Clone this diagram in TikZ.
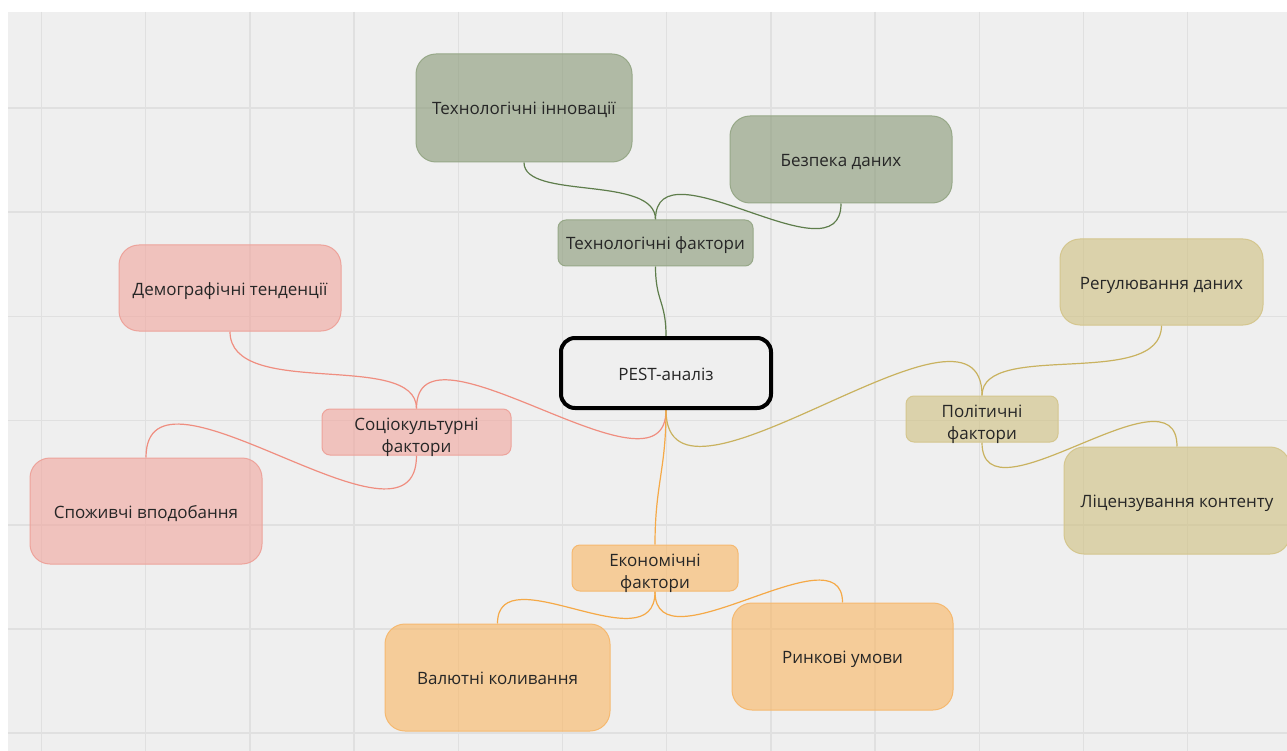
\documentclass[tikz,border=0pt]{standalone}
\usepackage{fontspec}
\setmainfont{Open Sans}
\usetikzlibrary{backgrounds}
\definecolor{bgc}{HTML}{EFEFEF}
\definecolor{gridc}{HTML}{E0E0E0}
\definecolor{txt}{HTML}{262626}
\definecolor{techF}{HTML}{869774}
\definecolor{techB}{HTML}{97A888}
\definecolor{techL}{HTML}{5E7D4B}
\definecolor{socF}{HTML}{F1A49D}
\definecolor{socB}{HTML}{EDA39B}
\definecolor{socL}{HTML}{EF8E80}
\definecolor{polF}{HTML}{CFBF7F}
\definecolor{polB}{HTML}{D4C68E}
\definecolor{polL}{HTML}{C9B25F}
\definecolor{ecoF}{HTML}{F9B560}
\definecolor{ecoB}{HTML}{F5B970}
\definecolor{ecoL}{HTML}{F5A947}
\tikzset{
  box/.style={draw, fill opacity=0.6, text opacity=1, text=txt, line width=1pt,
    align=center, inner sep=0pt, font=\fontsize{17}{22}\selectfont,
    text height=16pt, text depth=2pt},
  twoline/.style={text height=40pt, text depth=0pt},
  bigbox/.style={box, rounded corners=20pt},
  smallbox/.style={box, rounded corners=8pt},
  tech/.style={fill=techF, draw=techB},
  soc/.style={fill=socF, draw=socB},
  pol/.style={fill=polF, draw=polB},
  eco/.style={fill=ecoF, draw=ecoB},
  conn/.style={line width=1.2pt},
}
\begin{document}
\begin{tikzpicture}[x=1pt,y=-1pt]
\useasboundingbox (0,0) rectangle (1287,751);
% nodes
\node[box, draw=black, fill=bgc, fill opacity=1, line width=4pt, rounded corners=14pt,
  minimum width=210pt, minimum height=70pt] (pest) at (666,373) {PEST-аналіз};
\node[smallbox, tech, minimum width=195pt, minimum height=46pt] (tf) at (655.5,243) {Технологічні фактори};
\node[bigbox, tech, minimum width=216pt, minimum height=108pt] (ti) at (524,108) {Технологічні інновації};
\node[bigbox, tech, minimum width=222pt, minimum height=87pt] (bd) at (841,159.5) {Безпека даних};
\node[smallbox, soc, twoline, minimum width=189pt, minimum height=46pt] (sf) at (416.5,432) {Соціокультурні\\фактори};
\node[bigbox, soc, minimum width=222pt, minimum height=86pt] (dt) at (230,288) {Демографічні тенденції};
\node[bigbox, soc, minimum width=232pt, minimum height=106pt] (sv) at (146,511) {Споживчі вподобання};
\node[smallbox, pol, twoline, minimum width=152pt, minimum height=46pt] (pf) at (982,419) {Політичні\\фактори};
\node[bigbox, pol, minimum width=203pt, minimum height=86pt] (rd) at (1161.5,282) {Регулювання даних};
\node[bigbox, pol, minimum width=226pt, minimum height=107pt] (lk) at (1177,500.5) {Ліцензування контенту};
\node[smallbox, eco, twoline, minimum width=166pt, minimum height=46pt] (ef) at (655,568) {Економічні\\фактори};
\node[bigbox, eco, minimum width=225pt, minimum height=107pt] (vk) at (497.5,677.5) {Валютні коливання};
\node[bigbox, eco, minimum width=221pt, minimum height=107pt] (ru) at (842.5,656.5) {Ринкові умови};
% background and connectors
\begin{scope}[on background layer]
\fill[white] (0,0) rectangle (1287,751);
\fill[bgc] (8,12) rectangle (1287,751);
\foreach \i in {0,...,11} \draw[gridc, line width=1.5pt] ({41.5+104.2*\i},12) -- ({41.5+104.2*\i},751);
\foreach \i in {0,...,6} \draw[gridc, line width=1.5pt] (8,{108+104.2*\i}) -- (1287,{108+104.2*\i});
\draw[conn, techL] (pest.north) .. controls +(0,-35) and +(0,35) .. (tf.south);
\draw[conn, techL] (tf.north) .. controls +(0,-45) and +(0,38) .. (ti.south);
\draw[conn, techL] (tf.north) .. controls +(0,-80) and +(0,80) .. (bd.south);
\draw[conn, socL] (pest.south) .. controls +(0,100) and +(0,-100) .. (sf.north);
\draw[conn, socL] (sf.north) .. controls +(0,-59) and +(0,69) .. (dt.south);
\draw[conn, socL] (sf.south) .. controls +(0,115) and +(0,-115) .. (sv.north);
\draw[conn, polL] (pest.south) .. controls +(0,130) and +(0,-125) .. (pf.north);
\draw[conn, polL] (pf.north) .. controls +(0,-56) and +(0,65) .. (rd.south);
\draw[conn, polL] (pf.south) .. controls +(0,85) and +(0,-85) .. (lk.north);
\draw[conn, ecoL] (pest.south) .. controls +(0,60) and +(0,-60) .. (ef.north);
\draw[conn, ecoL] (ef.south) .. controls +(0,75) and +(0,-70) .. (vk.north);
\draw[conn, ecoL] (ef.south) .. controls +(0,80) and +(0,-75) .. (ru.north);
\end{scope}
\end{tikzpicture}
\end{document}
